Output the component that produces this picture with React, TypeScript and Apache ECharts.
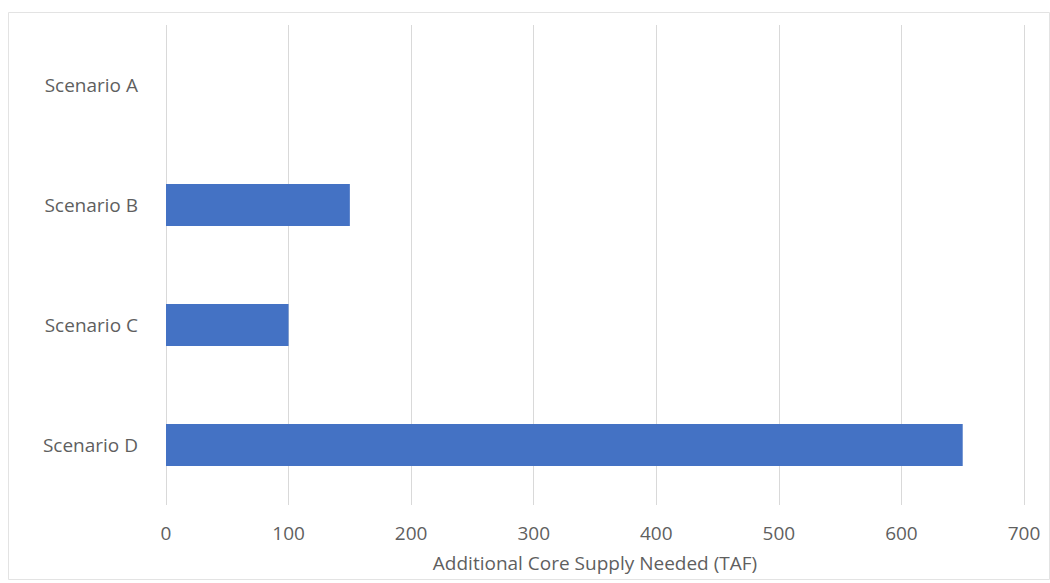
import React, { useEffect, useRef } from "react";
import * as echarts from "echarts";

const scenarios = ["Scenario A", "Scenario B", "Scenario C", "Scenario D"];
const additionalSupply = [0, 150, 100, 650];
const axisTitle = "Additional Core Supply Needed (TAF)";

export default function App() {
  const ref = useRef<HTMLDivElement>(null);

  useEffect(() => {
    if (!ref.current) return;
    const chart = echarts.init(ref.current, undefined, { renderer: "svg" });
    const font = "'Open Sans', 'DejaVu Sans', sans-serif";
    const textColor = "#5f5f5f";
    chart.setOption({
      animation: false,
      backgroundColor: "#ffffff",
      graphic: [
        {
          type: "rect",
          shape: { x: 8.5, y: 12.5, width: 1041, height: 567 },
          style: { fill: "none", stroke: "#e3e3e3", lineWidth: 1 },
          silent: true,
        },
      ],
      grid: { left: 166, right: 26, top: 25, bottom: 78 },
      xAxis: {
        type: "value",
        min: 0,
        max: 700,
        interval: 100,
        name: axisTitle,
        nameLocation: "middle",
        nameGap: 48,
        nameTextStyle: { color: textColor, fontSize: 19, fontFamily: font },
        axisLine: { show: false },
        axisTick: { show: false },
        axisLabel: { color: textColor, fontSize: 19, fontFamily: font, margin: 18 },
        splitLine: { show: true, lineStyle: { color: "#d9d9d9", width: 1 } },
      },
      yAxis: {
        type: "category",
        data: scenarios,
        inverse: true,
        axisLine: { show: false },
        axisTick: { show: false },
        axisLabel: { color: textColor, fontSize: 19, fontFamily: font, margin: 28 },
        splitLine: { show: false },
      },
      series: [
        {
          type: "bar",
          data: additionalSupply,
          barWidth: 42,
          itemStyle: { color: "#4472C4" },
        },
      ],
    });
    return () => chart.dispose();
  }, []);

  return (
    <div
      ref={ref}
      style={{ position: "absolute", left: 0, top: 0, width: 1050, height: 583 }}
    />
  );
}
